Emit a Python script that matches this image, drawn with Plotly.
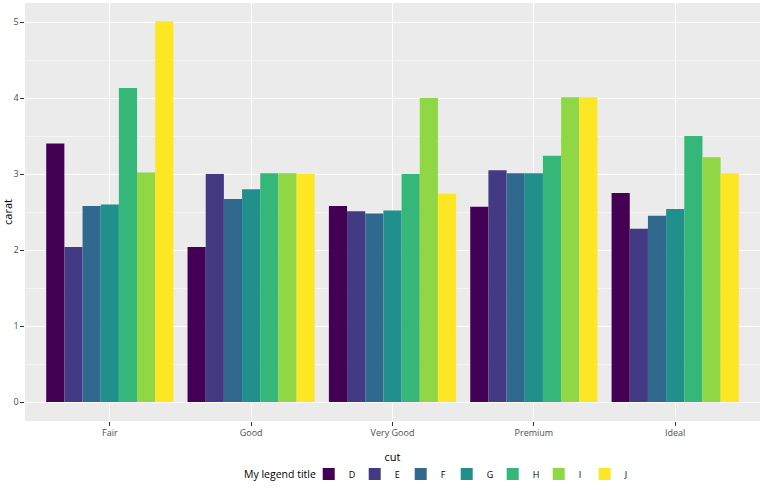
import plotly.graph_objects as go

cuts = ["Fair", "Good", "Very Good", "Premium", "Ideal"]
colors_lvls = ["D", "E", "F", "G", "H", "I", "J"]
D = [3.40, 2.04, 2.58, 2.57, 2.75]
E = [2.04, 3.00, 2.51, 3.05, 2.28]
F = [2.58, 2.67, 2.48, 3.01, 2.45]
G = [2.60, 2.80, 2.52, 3.01, 2.54]
H = [4.13, 3.01, 3.00, 3.24, 3.50]
I = [3.02, 3.01, 4.00, 4.01, 3.22]
J = [5.01, 3.00, 2.74, 4.01, 3.01]
series = [D, E, F, G, H, I, J]
palette = ["#440154", "#443A83", "#31688E", "#21908C", "#35B779", "#8FD744", "#FDE725"]
legend_title = "My legend title"

fig = go.Figure()
for name, vals, col in zip(colors_lvls, series, palette):
    fig.add_trace(go.Bar(x=cuts, y=vals, name=name, marker=dict(color=col, line=dict(width=0))))

fig.update_layout(
    width=764, height=492,
    barmode="group", bargap=0.1, bargroupgap=0,
    plot_bgcolor="#EBEBEB", paper_bgcolor="white",
    margin=dict(l=25, r=4, t=3, b=71, autoexpand=False),
    font=dict(family="Open Sans, verdana, arial, sans-serif", color="#000000"),
    legend=dict(orientation="h", x=0.386, xanchor="left", y=-0.127, yanchor="middle",
                valign="middle",
                font=dict(size=9, color="#000000"),
                entrywidth=1, entrywidthmode="pixels"),
    showlegend=True,
    annotations=[dict(text=legend_title, xref="paper", yref="paper", x=0.398, y=-0.127,
                      xanchor="right", yanchor="middle", showarrow=False,
                      font=dict(size=10.5, color="#000000"))],
)
fig.update_xaxes(range=[-0.6, 4.6], showgrid=True, gridcolor="white", gridwidth=1,
                 ticks="outside", ticklen=3.6, tickcolor="#333333", automargin=False,
                 tickfont=dict(size=9, color="#4D4D4D"), zeroline=False,
                 title=dict(text="cut", font=dict(size=11), standoff=14))
fig.update_yaxes(range=[-0.25, 5.25], showgrid=True, gridcolor="white", gridwidth=1,
                 dtick=1, ticks="outside", ticklen=3.6, tickcolor="#333333", automargin=False,
                 tickfont=dict(size=9, color="#4D4D4D"), zeroline=False,
                 minor=dict(dtick=0.5, showgrid=True, gridcolor="#F5F5F5", gridwidth=0.5),
                 title=dict(text="carat", font=dict(size=11), standoff=0))
fig.write_html("out.html", config={"displayModeBar": False},
               post_script="document.body.style.margin='0px';")
